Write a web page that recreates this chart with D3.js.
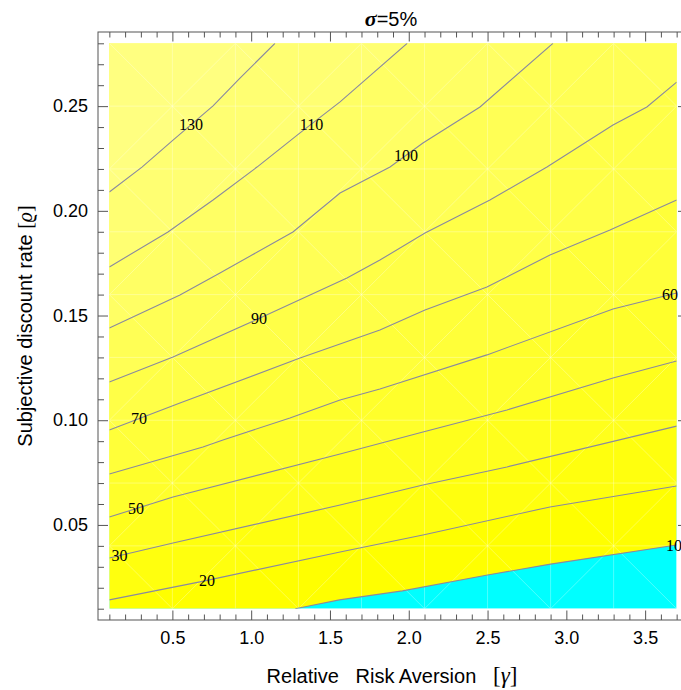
<!DOCTYPE html>
<html lang="en">
<head>
<meta charset="UTF-8">
<title>σ=5%</title>
<script src="https://cdn.jsdelivr.net/npm/d3@7"></script>
<style>
  body { margin: 0; background: #ffffff; }
  svg { display: block; }
</style>
</head>
<body>
<svg class="chart"></svg>
<script>
    // contour levels and one polyline of [gamma, rho] per level
    const levels = [10, 20, 30, 50, 60, 70, 90, 100, 110, 130];

    const line10 = [[1.28, 0.01], [1.56, 0.0142], [1.96, 0.0185], [2.50, 0.0261], [2.90, 0.0313], [3.7, 0.0404]];
    const line20 = [[0.1, 0.0142], [0.675, 0.0228], [1.564, 0.0371], [2.090, 0.0452], [2.896, 0.0586], [3.7, 0.0686]];
    const line30 = [[0.1, 0.0342], [0.504, 0.0414], [1.564, 0.0595], [2.090, 0.0691], [2.623, 0.0777], [3.7, 0.0972]];
    const line50 = [[0.1, 0.0538], [0.504, 0.0633], [1.564, 0.0839], [2.090, 0.0944], [2.623, 0.1049], [3.296, 0.1202], [3.7, 0.1283]];
    const line60 = [[0.1, 0.0743], [0.694, 0.0872], [0.821, 0.0906], [1.246, 0.1011], [1.564, 0.1097], [1.817, 0.1149],
                    [2.496, 0.1312], [3.296, 0.1531], [3.7, 0.1608]];
    const line70 = [[0.1, 0.0953], [0.548, 0.1082], [1.310, 0.1297], [1.817, 0.1431], [2.103, 0.1526], [2.496, 0.1636],
                    [2.896, 0.1789], [3.277, 0.1908], [3.7, 0.2052]];
    const line90 = [[0.1, 0.1183], [0.504, 0.1302], [1.056, 0.1488], [1.608, 0.1679], [1.817, 0.1765], [2.103, 0.1894],
                    [2.515, 0.2052], [2.877, 0.2209], [3.296, 0.2410], [3.511, 0.2496], [3.7, 0.2615]];
    const line100 = [[0.1, 0.1440], [0.548, 0.1598], [0.802, 0.1703], [1.265, 0.1899], [1.564, 0.2085], [1.881, 0.2209],
                     [2.090, 0.2324], [2.452, 0.2496], [2.915, 0.28]];
    const line110 = [[0.1, 0.1732], [0.472, 0.1899], [0.758, 0.2052], [1.037, 0.2209], [1.310, 0.2372], [1.564, 0.2520], [1.99, 0.28]];
    const line130 = [[0.1, 0.2090], [0.307, 0.2209], [0.504, 0.2338], [0.758, 0.2501], [0.929, 0.2634], [1.151, 0.28]];

    const contourLines = [line10, line20, line30, line50, line60, line70, line90, line100, line110, line130];

    // where each level's label sits along its line (gamma)
    const labelGamma = [3.683, 0.720, 0.164, 0.269, 3.657, 0.288, 1.050, 1.982, 1.383, 0.618];

    // sampling mesh of the plot
    const gammaNodes = [0.1, 0.5, 0.9, 1.3, 1.7, 2.1, 2.5, 2.9, 3.3, 3.7];
    const rhoNodes = [0.01, 0.04, 0.07, 0.10, 0.13, 0.16, 0.19, 0.22, 0.25, 0.28];

    const xTicks = [0.5, 1.0, 1.5, 2.0, 2.5, 3.0, 3.5];
    const yTicks = [0.05, 0.10, 0.15, 0.20, 0.25];

    /**
     * 基本配置
     */
    const svgWidth = 681;
    const svgHeight = 690;
    const gMin = 0.1, gMax = 3.7, rMin = 0.01, rMax = 0.28;

    const svg = d3.select(".chart")
        .attr("width", svgWidth)
        .attr("height", svgHeight);

    // frame is padded by 2% of the range on every side
    const x = d3.scaleLinear().domain([0.028, 3.772]).range([98, 688]);
    const y = d3.scaleLinear().domain([0.0046, 0.2854]).range([620, 32]);

    const px0 = x(gMin), px1 = x(gMax), py0 = y(rMax), py1 = y(rMin);

    svg.append("defs").append("clipPath").attr("id", "plotClip")
        .append("rect")
        .attr("x", px0).attr("y", py0)
        .attr("width", px1 - px0).attr("height", py1 - py0);

    const plot = svg.append("g").attr("clip-path", "url(#plotClip)");

    // below the lowest level
    plot.append("rect")
        .attr("x", px0).attr("y", py0)
        .attr("width", px1 - px0).attr("height", py1 - py0)
        .attr("fill", "#00ffff");

    const bandColor = d3.interpolateRgb("#ffff00", "#ffff80");

    // region above each contour, painted from low to high
    function upperRegion(pts) {
        const ring = pts.map(p => [x(p[0]), y(p[1])]);
        const first = pts[0], last = pts[pts.length - 1];
        if (last[0] >= gMax) ring.push([x(gMax), y(rMax)]);
        ring.push([x(gMin), y(rMax)]);
        if (first[1] <= rMin) ring.push([x(gMin), y(rMin)]);
        return d3.line()(ring) + "Z";
    }

    plot.selectAll("path.band")
        .data(contourLines)
        .join("path")
        .attr("class", "band")
        .attr("d", upperRegion)
        .attr("fill", (d, i) => bandColor(i / (levels.length - 1)));

    // faint mesh seams
    const mesh = plot.append("g")
        .attr("stroke", "#ffffff")
        .attr("stroke-opacity", 0.3)
        .attr("stroke-width", 1);

    mesh.selectAll("line.v").data(gammaNodes).join("line")
        .attr("x1", d => x(d)).attr("x2", d => x(d))
        .attr("y1", py0).attr("y2", py1);
    mesh.selectAll("line.h").data(rhoNodes).join("line")
        .attr("y1", d => y(d)).attr("y2", d => y(d))
        .attr("x1", px0).attr("x2", px1);

    const diagonals = [];
    for (let i = 0; i < gammaNodes.length - 1; i++) {
        for (let j = 0; j < rhoNodes.length - 1; j++) {
            if ((i + j) % 2 === 1) {
                diagonals.push([gammaNodes[i], rhoNodes[j], gammaNodes[i + 1], rhoNodes[j + 1]]);
            } else {
                diagonals.push([gammaNodes[i], rhoNodes[j + 1], gammaNodes[i + 1], rhoNodes[j]]);
            }
        }
    }
    mesh.selectAll("line.d").data(diagonals).join("line")
        .attr("x1", d => x(d[0])).attr("y1", d => y(d[1]))
        .attr("x2", d => x(d[2])).attr("y2", d => y(d[3]));

    // contour lines
    const lineGen = d3.line().x(d => x(d[0])).y(d => y(d[1]));
    plot.selectAll("path.contour")
        .data(contourLines)
        .join("path")
        .attr("class", "contour")
        .attr("d", lineGen)
        .attr("fill", "none")
        .attr("stroke", "#8a8a9e")
        .attr("stroke-width", 1.1);

    // rho of a polyline at a given gamma
    function rhoAt(pts, g) {
        for (let k = 0; k < pts.length - 1; k++) {
            const a = pts[k], b = pts[k + 1];
            if (g >= a[0] && g <= b[0]) {
                return a[1] + (b[1] - a[1]) * (g - a[0]) / (b[0] - a[0]);
            }
        }
        return pts[pts.length - 1][1];
    }

    svg.append("g").selectAll("text")
        .data(levels)
        .join("text")
        .attr("x", (d, i) => x(labelGamma[i]))
        .attr("y", (d, i) => y(rhoAt(contourLines[i], labelGamma[i])))
        .attr("dy", "0.35em")
        .attr("text-anchor", "middle")
        .attr("font-family", "'Liberation Serif', 'Times New Roman', serif")
        .attr("font-size", 16)
        .attr("fill", "#000")
        .text(d => d);

    /**
     * 坐标框与刻度
     */
    const minorX = d3.range(1, 38).map(i => i / 10).filter(v => Math.abs(v * 2 - Math.round(v * 2)) > 1e-6);
    const minorY = d3.range(1, 29).map(i => i / 100).filter(v => Math.abs(v * 20 - Math.round(v * 20)) > 1e-6);

    const tickColor = "#555555";

    function styleAxis(g) {
        g.select(".domain").remove();
        g.selectAll(".tick line").attr("stroke", tickColor);
        g.selectAll(".tick text")
            .attr("fill", "#000")
            .attr("font-family", "'Liberation Sans', Arial, sans-serif")
            .attr("font-size", 18);
    }

    svg.append("g").attr("transform", `translate(0,${y.range()[0]})`)
        .call(d3.axisBottom(x).tickValues(xTicks).tickSize(-9.5).tickPadding(11).tickFormat(d3.format(".1f")))
        .call(styleAxis);
    svg.append("g").attr("transform", `translate(0,${y.range()[0]})`)
        .call(d3.axisBottom(x).tickValues(minorX).tickSize(-5.5).tickFormat(""))
        .call(styleAxis);
    svg.append("g").attr("transform", `translate(0,${y.range()[1]})`)
        .call(d3.axisTop(x).tickValues(xTicks).tickSize(-9.5).tickFormat(""))
        .call(styleAxis);
    svg.append("g").attr("transform", `translate(0,${y.range()[1]})`)
        .call(d3.axisTop(x).tickValues(minorX).tickSize(-5.5).tickFormat(""))
        .call(styleAxis);

    svg.append("g").attr("transform", `translate(${x.range()[0]},0)`)
        .call(d3.axisLeft(y).tickValues(yTicks).tickSize(-10).tickPadding(10).tickFormat(d3.format(".2f")))
        .call(styleAxis);
    svg.append("g").attr("transform", `translate(${x.range()[0]},0)`)
        .call(d3.axisLeft(y).tickValues(minorY).tickSize(-6).tickFormat(""))
        .call(styleAxis);
    svg.append("g").attr("transform", `translate(${x.range()[1]},0)`)
        .call(d3.axisRight(y).tickValues(yTicks).tickSize(-10).tickFormat(""))
        .call(styleAxis);
    svg.append("g").attr("transform", `translate(${x.range()[1]},0)`)
        .call(d3.axisRight(y).tickValues(minorY).tickSize(-6).tickFormat(""))
        .call(styleAxis);

    svg.append("rect")
        .attr("x", x.range()[0]).attr("y", y.range()[1])
        .attr("width", x.range()[1] - x.range()[0])
        .attr("height", y.range()[0] - y.range()[1])
        .attr("fill", "none")
        .attr("stroke", tickColor)
        .attr("stroke-width", 1);

    /**
     * 标题与坐标轴名称
     */
    const midX = (x.range()[0] + x.range()[1]) / 2;

    const title = svg.append("text")
        .attr("x", midX - 2).attr("y", 26)
        .attr("text-anchor", "middle")
        .attr("font-size", 20)
        .attr("font-family", "'Liberation Sans', Arial, sans-serif");
    title.append("tspan")
        .attr("font-family", "'Liberation Serif', 'Times New Roman', serif")
        .attr("font-style", "italic").attr("font-weight", "bold")
        .attr("font-size", 22)
        .text("σ");
    title.append("tspan").text("=5%");

    const xLabel = svg.append("text")
        .attr("x", midX - 1).attr("y", 683)
        .attr("text-anchor", "middle")
        .attr("font-size", 20)
        .attr("font-family", "'Liberation Sans', Arial, sans-serif")
        .attr("xml:space", "preserve")
        .style("white-space", "pre");
    xLabel.append("tspan").text("Relative   Risk Aversion   ");
    xLabel.append("tspan").attr("font-family", "'Liberation Serif', serif").attr("font-size", 23).text("[");
    xLabel.append("tspan").attr("font-family", "'Liberation Serif', serif").attr("font-size", 23).attr("font-style", "italic").text("γ");
    xLabel.append("tspan").attr("font-family", "'Liberation Serif', serif").attr("font-size", 23).text("]");

    const yLabel = svg.append("text")
        .attr("transform", `translate(32,${(y.range()[0] + y.range()[1]) / 2}) rotate(-90)`)
        .attr("text-anchor", "middle")
        .attr("font-size", 20)
        .attr("font-family", "'Liberation Sans', Arial, sans-serif")
        .attr("xml:space", "preserve")
        .style("white-space", "pre");
    yLabel.append("tspan").text("Subjective discount rate ");
    yLabel.append("tspan").attr("font-family", "'Liberation Serif', serif").text("[");
    yLabel.append("tspan").attr("font-family", "'Liberation Serif', serif").attr("font-style", "italic").text("ϱ");
    yLabel.append("tspan").attr("font-family", "'Liberation Serif', serif").text("]");
</script>
</body>
</html>
